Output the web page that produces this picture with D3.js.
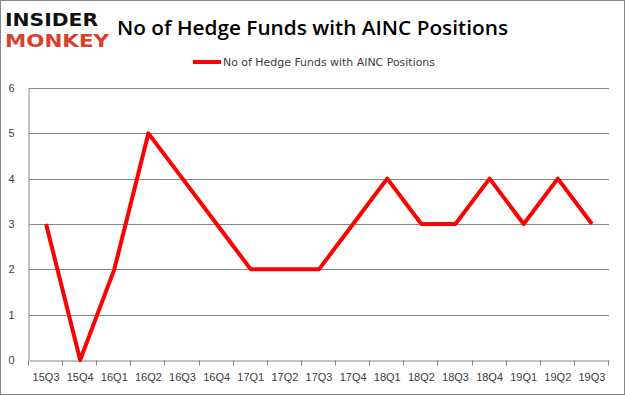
<!DOCTYPE html>
<meta charset="utf-8">
<style>
body { margin: 0; background: #fff; }
svg { display: block; font-family: "DejaVu Sans", Tahoma, sans-serif; }
.axis text { fill: #404040; font-size: 11px; }
</style>
<svg width="625" height="395"></svg>
<script src="https://d3js.org/d3.v7.min.js"></script>
<script>

// quarters and fund counts
const quarters = ["15Q3","15Q4","16Q1","16Q2","16Q3","16Q4","17Q1","17Q2","17Q3","17Q4","18Q1","18Q2","18Q3","18Q4","19Q1","19Q2","19Q3"];
const funds = [3,0,2,5,4,3,2,2,2,3,4,3,3,4,3,4,3];
const yTicks = [0,1,2,3,4,5,6];

const svg = d3.select("svg");
const margin = {left: 29, right: 16, top: 88, bottom: 35};
const width = 625, height = 395;

// outer frame
svg.append("rect")
  .attr("x", 0.5).attr("y", 0.5)
  .attr("width", width - 1).attr("height", height - 1)
  .attr("fill", "#fff").attr("stroke", "#888");

var x = d3.scaleBand()
  .domain(quarters)
  .range([margin.left, width - margin.right]);

var y = d3.scaleLinear()
  .domain([0, 6])
  .range([height - margin.bottom, margin.top]);

// gridlines
svg.append("g")
  .selectAll("line")
  .data(yTicks.slice(1))
  .enter().append("line")
    .attr("x1", margin.left).attr("x2", width - margin.right)
    .attr("y1", d => Math.round(y(d)) + 0.5)
    .attr("y2", d => Math.round(y(d)) + 0.5)
    .attr("stroke", "#868686");

// y axis
var yAxis = svg.append("g")
  .attr("class", "axis")
  .attr("transform", "translate(" + (margin.left - 0.5) + ",0)")
  .call(d3.axisLeft(y).tickValues(yTicks).tickFormat(d3.format("d")).tickSize(0).tickPadding(14));
yAxis.select(".domain").attr("stroke", "#868686");

// x axis
var xAxis = svg.append("g")
  .attr("class", "axis")
  .attr("transform", "translate(0," + (Math.round(y(0)) + 0.5) + ")")
  .call(d3.axisBottom(x).tickSize(0).tickPadding(13));
xAxis.select(".domain").attr("stroke", "#868686");

// tick marks at category boundaries
xAxis.append("g")
  .selectAll("line")
  .data(d3.range(quarters.length + 1))
  .enter().append("line")
    .attr("x1", i => Math.round(margin.left + i * x.step()) - 0.5)
    .attr("x2", i => Math.round(margin.left + i * x.step()) - 0.5)
    .attr("y1", 0).attr("y2", 5)
    .attr("stroke", "#868686");

// series line
var line = d3.line()
  .x((d, i) => x(quarters[i]) + x.bandwidth() / 2)
  .y(d => y(d));

svg.append("path")
  .datum(funds)
  .attr("d", line)
  .attr("fill", "none")
  .attr("stroke", "#ff0000")
  .attr("stroke-width", 4)
  .attr("stroke-linejoin", "round");

// title
svg.append("text")
  .attr("x", 117).attr("y", 35)
  .attr("font-family", "'Open Sans', sans-serif")
  .attr("font-size", "20px")
  .attr("font-weight", "600")
  .attr("fill", "#000")
  .attr("textLength", 391)
  .attr("lengthAdjust", "spacingAndGlyphs")
  .text("No of Hedge Funds with AINC Positions");

// legend
svg.append("line")
  .attr("x1", 193).attr("x2", 221)
  .attr("y1", 62).attr("y2", 62)
  .attr("stroke", "#ff0000").attr("stroke-width", 4);
svg.append("text")
  .attr("x", 223).attr("y", 66)
  .attr("font-size", "11px")
  .attr("fill", "#404040")
  .attr("textLength", 212)
  .attr("lengthAdjust", "spacingAndGlyphs")
  .text("No of Hedge Funds with AINC Positions");

// logo
svg.append("text")
  .attr("x", 5).attr("y", 26)
  .attr("font-family", "'DejaVu Sans', sans-serif")
  .attr("font-size", "17px")
  .attr("font-weight", "bold")
  .attr("fill", "#111")
  .attr("textLength", 93)
  .attr("lengthAdjust", "spacingAndGlyphs")
  .text("INSIDER");
svg.append("text")
  .attr("x", 5).attr("y", 47)
  .attr("font-family", "'DejaVu Sans', sans-serif")
  .attr("font-size", "17px")
  .attr("font-weight", "bold")
  .attr("fill", "#d9402a")
  .attr("textLength", 104)
  .attr("lengthAdjust", "spacingAndGlyphs")
  .text("MONKEY");

</script>
